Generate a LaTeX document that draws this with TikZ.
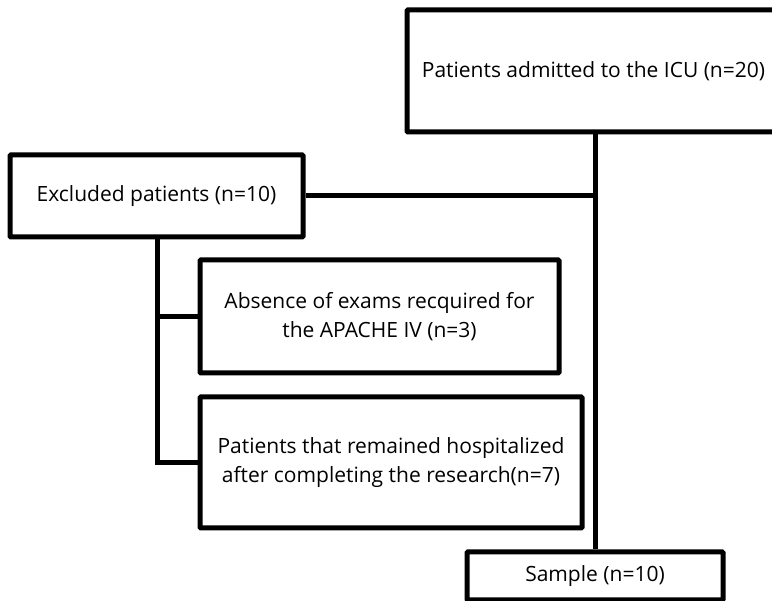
\documentclass[tikz,border=0pt]{standalone}
\usepackage{fontspec}
\setmainfont{Open Sans}
\usepackage{tikz}
\usetikzlibrary{positioning}

\tikzset{
  flowbox/.style={draw, line width=5pt, rounded corners=1pt, align=center,
    inner sep=0pt, font=\fontsize{21}{29}\selectfont},
  link/.style={line width=5pt}
}

\begin{document}
\begin{tikzpicture}[x=1pt,y=-1pt]
\useasboundingbox (0,0) rectangle (772,601);
% boxes
\node[flowbox, minimum width=373pt, minimum height=122pt] (admitted) at (593.5,71) {Patients admitted to the ICU (n=20)};
\node[flowbox, minimum width=293pt, minimum height=82pt] (excluded) at (156.5,196) {Excluded patients (n=10)};
\node[flowbox, minimum width=359pt, minimum height=113pt] (absence) at (379.5,316.5) {Absence of exams recquired for\\the APACHE IV (n=3)};
\node[flowbox, minimum width=382pt, minimum height=131pt] (remained) at (391,462.5) {Patients that remained hospitalized\\after completing the research(n=7)};
\node[flowbox, minimum width=256pt, minimum height=48pt] (sample) at (595,576) {Sample (n=10)};
% connectors
\draw[link] (admitted.south -| sample.north) -- (sample.north);
\draw[link] (excluded.east) -- (excluded.east -| sample.north);
\coordinate (branch) at (157,0);
\draw[link] (branch |- excluded.south) -- (branch |- remained.west) -- (remained.west);
\draw[link] (branch |- absence.west) -- (absence.west);
\end{tikzpicture}
\end{document}
